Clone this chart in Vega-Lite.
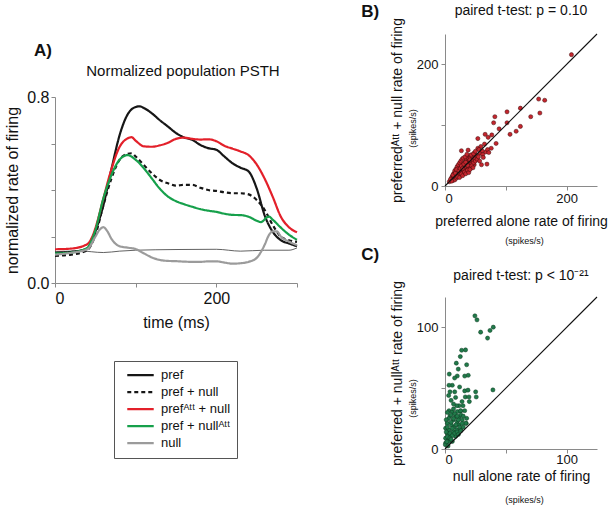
{
"$schema": "https://vega.github.io/schema/vega-lite/v6.json",
"background": "white",
"padding": {"left": 4, "top": 2, "right": 8, "bottom": 2},
"config": {
  "font": "Liberation Sans",
  "view": {"stroke": null},
  "axis": {"grid": false, "domainColor": "#8a8a8a", "tickColor": "#8a8a8a", "labelColor": "#111", "titleColor": "#111", "titleFontWeight": "normal", "tickSize": 4, "labelFont": "Liberation Sans", "titleFont": "Liberation Sans"},
  "title": {"font": "Liberation Sans", "fontWeight": "normal", "color": "#111"}
},
"datasets": {
  "psth": [
    {"t":0,"v":0.13,"s":"pref"},{"t":20,"v":0.134,"s":"pref"},{"t":40,"v":0.148,"s":"pref"},{"t":45,"v":0.17,"s":"pref"},{"t":50,"v":0.22,"s":"pref"},{"t":60,"v":0.335,"s":"pref"},{"t":70,"v":0.49,"s":"pref"},{"t":80,"v":0.635,"s":"pref"},{"t":90,"v":0.725,"s":"pref"},{"t":100,"v":0.757,"s":"pref"},{"t":105,"v":0.76,"s":"pref"},{"t":110,"v":0.753,"s":"pref"},{"t":120,"v":0.73,"s":"pref"},{"t":130,"v":0.7,"s":"pref"},{"t":140,"v":0.673,"s":"pref"},{"t":150,"v":0.645,"s":"pref"},{"t":160,"v":0.626,"s":"pref"},{"t":170,"v":0.616,"s":"pref"},{"t":180,"v":0.594,"s":"pref"},{"t":190,"v":0.58,"s":"pref"},{"t":200,"v":0.573,"s":"pref"},{"t":210,"v":0.544,"s":"pref"},{"t":220,"v":0.515,"s":"pref"},{"t":230,"v":0.496,"s":"pref"},{"t":240,"v":0.48,"s":"pref"},{"t":250,"v":0.407,"s":"pref"},{"t":260,"v":0.29,"s":"pref"},{"t":270,"v":0.22,"s":"pref"},{"t":280,"v":0.184,"s":"pref"},{"t":290,"v":0.17,"s":"pref"},{"t":300,"v":0.158,"s":"pref"},
    {"t":0,"v":0.117,"s":"pref + null"},{"t":20,"v":0.122,"s":"pref + null"},{"t":40,"v":0.141,"s":"pref + null"},{"t":45,"v":0.165,"s":"pref + null"},{"t":50,"v":0.206,"s":"pref + null"},{"t":60,"v":0.335,"s":"pref + null"},{"t":70,"v":0.45,"s":"pref + null"},{"t":80,"v":0.53,"s":"pref + null"},{"t":90,"v":0.556,"s":"pref + null"},{"t":95,"v":0.558,"s":"pref + null"},{"t":100,"v":0.544,"s":"pref + null"},{"t":110,"v":0.508,"s":"pref + null"},{"t":120,"v":0.472,"s":"pref + null"},{"t":130,"v":0.443,"s":"pref + null"},{"t":140,"v":0.429,"s":"pref + null"},{"t":150,"v":0.419,"s":"pref + null"},{"t":160,"v":0.422,"s":"pref + null"},{"t":170,"v":0.422,"s":"pref + null"},{"t":180,"v":0.41,"s":"pref + null"},{"t":190,"v":0.4,"s":"pref + null"},{"t":200,"v":0.396,"s":"pref + null"},{"t":210,"v":0.39,"s":"pref + null"},{"t":220,"v":0.386,"s":"pref + null"},{"t":230,"v":0.386,"s":"pref + null"},{"t":240,"v":0.381,"s":"pref + null"},{"t":250,"v":0.357,"s":"pref + null"},{"t":260,"v":0.314,"s":"pref + null"},{"t":270,"v":0.249,"s":"pref + null"},{"t":280,"v":0.199,"s":"pref + null"},{"t":290,"v":0.184,"s":"pref + null"},{"t":300,"v":0.177,"s":"pref + null"},
    {"t":0,"v":0.145,"s":"prefᴬᵗᵗ + null"},{"t":20,"v":0.148,"s":"prefᴬᵗᵗ + null"},{"t":40,"v":0.167,"s":"prefᴬᵗᵗ + null"},{"t":45,"v":0.19,"s":"prefᴬᵗᵗ + null"},{"t":50,"v":0.235,"s":"prefᴬᵗᵗ + null"},{"t":60,"v":0.364,"s":"prefᴬᵗᵗ + null"},{"t":70,"v":0.49,"s":"prefᴬᵗᵗ + null"},{"t":80,"v":0.585,"s":"prefᴬᵗᵗ + null"},{"t":90,"v":0.622,"s":"prefᴬᵗᵗ + null"},{"t":95,"v":0.627,"s":"prefᴬᵗᵗ + null"},{"t":100,"v":0.612,"s":"prefᴬᵗᵗ + null"},{"t":110,"v":0.588,"s":"prefᴬᵗᵗ + null"},{"t":120,"v":0.586,"s":"prefᴬᵗᵗ + null"},{"t":130,"v":0.592,"s":"prefᴬᵗᵗ + null"},{"t":140,"v":0.603,"s":"prefᴬᵗᵗ + null"},{"t":150,"v":0.62,"s":"prefᴬᵗᵗ + null"},{"t":160,"v":0.625,"s":"prefᴬᵗᵗ + null"},{"t":170,"v":0.62,"s":"prefᴬᵗᵗ + null"},{"t":180,"v":0.617,"s":"prefᴬᵗᵗ + null"},{"t":190,"v":0.618,"s":"prefᴬᵗᵗ + null"},{"t":200,"v":0.61,"s":"prefᴬᵗᵗ + null"},{"t":210,"v":0.59,"s":"prefᴬᵗᵗ + null"},{"t":220,"v":0.578,"s":"prefᴬᵗᵗ + null"},{"t":230,"v":0.566,"s":"prefᴬᵗᵗ + null"},{"t":240,"v":0.55,"s":"prefᴬᵗᵗ + null"},{"t":250,"v":0.51,"s":"prefᴬᵗᵗ + null"},{"t":260,"v":0.448,"s":"prefᴬᵗᵗ + null"},{"t":270,"v":0.37,"s":"prefᴬᵗᵗ + null"},{"t":280,"v":0.285,"s":"prefᴬᵗᵗ + null"},{"t":290,"v":0.24,"s":"prefᴬᵗᵗ + null"},{"t":300,"v":0.218,"s":"prefᴬᵗᵗ + null"},
    {"t":0,"v":0.127,"s":"pref + nullᴬᵗᵗ"},{"t":20,"v":0.131,"s":"pref + nullᴬᵗᵗ"},{"t":40,"v":0.151,"s":"pref + nullᴬᵗᵗ"},{"t":45,"v":0.18,"s":"pref + nullᴬᵗᵗ"},{"t":50,"v":0.227,"s":"pref + nullᴬᵗᵗ"},{"t":60,"v":0.364,"s":"pref + nullᴬᵗᵗ"},{"t":70,"v":0.465,"s":"pref + nullᴬᵗᵗ"},{"t":80,"v":0.53,"s":"pref + nullᴬᵗᵗ"},{"t":90,"v":0.55,"s":"pref + nullᴬᵗᵗ"},{"t":100,"v":0.53,"s":"pref + nullᴬᵗᵗ"},{"t":110,"v":0.494,"s":"pref + nullᴬᵗᵗ"},{"t":120,"v":0.45,"s":"pref + nullᴬᵗᵗ"},{"t":130,"v":0.405,"s":"pref + nullᴬᵗᵗ"},{"t":140,"v":0.372,"s":"pref + nullᴬᵗᵗ"},{"t":150,"v":0.352,"s":"pref + nullᴬᵗᵗ"},{"t":160,"v":0.339,"s":"pref + nullᴬᵗᵗ"},{"t":170,"v":0.328,"s":"pref + nullᴬᵗᵗ"},{"t":180,"v":0.318,"s":"pref + nullᴬᵗᵗ"},{"t":190,"v":0.311,"s":"pref + nullᴬᵗᵗ"},{"t":200,"v":0.306,"s":"pref + nullᴬᵗᵗ"},{"t":210,"v":0.298,"s":"pref + nullᴬᵗᵗ"},{"t":220,"v":0.293,"s":"pref + nullᴬᵗᵗ"},{"t":230,"v":0.292,"s":"pref + nullᴬᵗᵗ"},{"t":240,"v":0.285,"s":"pref + nullᴬᵗᵗ"},{"t":250,"v":0.268,"s":"pref + nullᴬᵗᵗ"},{"t":255,"v":0.262,"s":"pref + nullᴬᵗᵗ"},{"t":265,"v":0.286,"s":"pref + nullᴬᵗᵗ"},{"t":270,"v":0.272,"s":"pref + nullᴬᵗᵗ"},{"t":280,"v":0.238,"s":"pref + nullᴬᵗᵗ"},{"t":290,"v":0.208,"s":"pref + nullᴬᵗᵗ"},{"t":300,"v":0.186,"s":"pref + nullᴬᵗᵗ"},
    {"t":0,"v":0.122,"s":"null"},{"t":20,"v":0.13,"s":"null"},{"t":40,"v":0.145,"s":"null"},{"t":50,"v":0.199,"s":"null"},{"t":55,"v":0.228,"s":"null"},{"t":60,"v":0.24,"s":"null"},{"t":65,"v":0.222,"s":"null"},{"t":70,"v":0.19,"s":"null"},{"t":80,"v":0.158,"s":"null"},{"t":90,"v":0.152,"s":"null"},{"t":100,"v":0.146,"s":"null"},{"t":110,"v":0.128,"s":"null"},{"t":120,"v":0.11,"s":"null"},{"t":130,"v":0.099,"s":"null"},{"t":140,"v":0.095,"s":"null"},{"t":150,"v":0.094,"s":"null"},{"t":160,"v":0.092,"s":"null"},{"t":170,"v":0.091,"s":"null"},{"t":180,"v":0.091,"s":"null"},{"t":190,"v":0.093,"s":"null"},{"t":200,"v":0.093,"s":"null"},{"t":210,"v":0.088,"s":"null"},{"t":220,"v":0.083,"s":"null"},{"t":230,"v":0.085,"s":"null"},{"t":240,"v":0.091,"s":"null"},{"t":250,"v":0.108,"s":"null"},{"t":260,"v":0.165,"s":"null"},{"t":265,"v":0.205,"s":"null"},{"t":270,"v":0.222,"s":"null"},{"t":275,"v":0.222,"s":"null"},{"t":280,"v":0.2,"s":"null"},{"t":290,"v":0.178,"s":"null"},{"t":300,"v":0.163,"s":"null"}
  ],
  "base": [
    {"t":0,"v":0.134},{"t":30,"v":0.138},{"t":60,"v":0.131},{"t":80,"v":0.137},{"t":100,"v":0.141},{"t":150,"v":0.144},{"t":200,"v":0.145},{"t":230,"v":0.137},{"t":260,"v":0.141},{"t":290,"v":0.141},{"t":300,"v":0.151}
  ],
  "diagB": [{"x":0,"y":0},{"x":250,"y":250}],
  "diagC": [{"x":0,"y":0},{"x":125,"y":125}],
  "ptsB": [
    {"x":208,"y":216},{"x":154,"y":143},{"x":164,"y":141},{"x":141,"y":114},{"x":156,"y":120},{"x":124,"y":128},{"x":102,"y":122},{"x":124,"y":98},{"x":117,"y":90},{"x":107,"y":85},{"x":102,"y":104},{"x":82,"y":114},{"x":80,"y":104},{"x":89,"y":94},{"x":66,"y":85},{"x":71,"y":80},{"x":77,"y":84},{"x":54,"y":78},{"x":84,"y":70},{"x":76,"y":62},{"x":69,"y":36},{"x":60,"y":35},{"x":27,"y":58},{"x":38,"y":59},{"x":54,"y":62},{"x":59,"y":65},{"x":65,"y":69},{"x":48,"y":54},{"x":58,"y":54},{"x":43,"y":51},{"x":37,"y":48},{"x":51,"y":45},{"x":45,"y":43},{"x":35,"y":40},{"x":40,"y":37},{"x":48,"y":35},{"x":32,"y":32},{"x":26,"y":29},{"x":21,"y":26},{"x":29,"y":24},{"x":18,"y":21},{"x":24,"y":18},{"x":15,"y":15},{"x":13,"y":13},{"x":10,"y":10},{"x":7,"y":7},
    {"x":12,"y":16},{"x":14,"y":20},{"x":16,"y":22},{"x":17,"y":18},{"x":19,"y":24},{"x":20,"y":20},{"x":21,"y":28},{"x":22,"y":23},{"x":23,"y":30},{"x":24,"y":26},{"x":25,"y":22},{"x":26,"y":34},{"x":27,"y":27},{"x":28,"y":31},{"x":29,"y":36},{"x":30,"y":28},{"x":31,"y":33},{"x":32,"y":38},{"x":33,"y":30},{"x":34,"y":35},{"x":35,"y":44},{"x":36,"y":33},{"x":37,"y":40},{"x":38,"y":36},{"x":39,"y":45},{"x":40,"y":42},{"x":41,"y":38},{"x":42,"y":47},{"x":43,"y":40},{"x":44,"y":36},{"x":45,"y":49},{"x":46,"y":42},{"x":47,"y":38},{"x":49,"y":46},{"x":50,"y":41},{"x":52,"y":50},{"x":53,"y":44},{"x":55,"y":48},{"x":57,"y":41},{"x":62,"y":52},{"x":63,"y":47},{"x":67,"y":56},{"x":70,"y":60},{"x":72,"y":55},
    {"x":15,"y":12},{"x":17,"y":14},{"x":18,"y":16},{"x":20,"y":17},{"x":22,"y":19},{"x":23,"y":21},{"x":25,"y":18},{"x":26,"y":24},{"x":28,"y":22},{"x":30,"y":25},{"x":31,"y":21},{"x":33,"y":27},{"x":35,"y":24},{"x":36,"y":30},{"x":38,"y":28},{"x":40,"y":32},{"x":42,"y":29},{"x":44,"y":33},{"x":46,"y":30},
    {"x":13,"y":9},{"x":16,"y":10},{"x":19,"y":13},{"x":21,"y":15},{"x":24,"y":14},{"x":27,"y":20},{"x":29,"y":17},{"x":32,"y":23},{"x":34,"y":20},{"x":37,"y":26},{"x":39,"y":22},{"x":41,"y":27},
    {"x":11,"y":14},{"x":14,"y":17},{"x":16,"y":25},{"x":18,"y":28},{"x":20,"y":32},{"x":22,"y":35},{"x":24,"y":38},{"x":26,"y":41},{"x":28,"y":44},{"x":30,"y":46},{"x":33,"y":48},{"x":36,"y":52},
    {"x":9,"y":11},{"x":11,"y":8},{"x":13,"y":18},{"x":17,"y":21},{"x":19,"y":27},{"x":23,"y":25},{"x":25,"y":29},{"x":27,"y":33},{"x":29,"y":29},{"x":31,"y":36},{"x":34,"y":39},{"x":37,"y":34},{"x":41,"y":43},{"x":43,"y":51},{"x":47,"y":53},{"x":50,"y":57},{"x":56,"y":60},{"x":61,"y":58}
  ],
  "ptsC": [
    {"x":24.6,"y":109.5},{"x":26.3,"y":106.2},{"x":29.3,"y":96.1},{"x":35,"y":91.2},{"x":37,"y":97.5},{"x":39.7,"y":100.2},{"x":39.4,"y":48.6},{"x":13.7,"y":81.2},{"x":16.9,"y":81.5},{"x":12.6,"y":76},{"x":9.3,"y":70.6},{"x":17.8,"y":69.3},{"x":10.9,"y":65.7},{"x":16.2,"y":60},{"x":10.1,"y":60},{"x":7.9,"y":58.4},{"x":3.5,"y":61.6},{"x":19.1,"y":60.6},{"x":6,"y":52.4},{"x":3.3,"y":52.4},{"x":4.1,"y":47},{"x":8,"y":47},{"x":12,"y":51},{"x":16.2,"y":47.8},{"x":18.9,"y":48.4},{"x":25.2,"y":47},{"x":25.7,"y":42.8},{"x":16.7,"y":42.8},{"x":8.7,"y":42.4},{"x":19.7,"y":42.8},{"x":14.8,"y":35.6},{"x":11.5,"y":35.6},{"x":9.6,"y":35.6},{"x":16.2,"y":31.5},{"x":17.5,"y":21.1},{"x":12.9,"y":31.2},{"x":7,"y":37},{"x":5,"y":40},{"x":3,"y":44},{"x":20,"y":39},{"x":14,"y":39},
    {"x":3.3,"y":31.5},{"x":6,"y":30.7},{"x":10.1,"y":30.7},{"x":12.8,"y":31.5},{"x":8.7,"y":26.6},{"x":11.5,"y":26.1},{"x":4.1,"y":27.1},{"x":6.8,"y":23.9},{"x":10.1,"y":22.5},{"x":14.2,"y":23.9},{"x":1.9,"y":21.2},{"x":5.2,"y":19.8},{"x":7.9,"y":18.4},{"x":11.5,"y":19.8},{"x":0.5,"y":17.1},{"x":3.3,"y":15.7},{"x":6.8,"y":14.4},{"x":9.6,"y":15.7},{"x":12.8,"y":16.3},{"x":1.9,"y":13},{"x":4.6,"y":11.7},{"x":8.7,"y":10.3},{"x":0.5,"y":8.9},{"x":3.3,"y":7.6},{"x":6,"y":6.2},{"x":0.5,"y":4.9},{"x":0.3,"y":3.5},{"x":17,"y":21.2},{"x":17.8,"y":25.2},
    {"x":2,"y":10},{"x":4,"y":13},{"x":5,"y":22},{"x":7,"y":25},{"x":9,"y":20},{"x":11,"y":24},{"x":13,"y":28},{"x":15,"y":27},{"x":2,"y":18},{"x":1,"y":14},{"x":3,"y":6},{"x":6,"y":11},{"x":8,"y":13},{"x":10,"y":14},{"x":12,"y":18},{"x":14,"y":21},{"x":3,"y":25},{"x":5,"y":28},{"x":7,"y":33},{"x":2,"y":30},{"x":1,"y":24},{"x":4,"y":9},{"x":6,"y":17},{"x":8,"y":29},{"x":10,"y":27},{"x":1.5,"y":6},{"x":2.5,"y":2.5},{"x":5,"y":8},{"x":11,"y":12},{"x":13,"y":15},{"x":15,"y":18}
  ]
},
"spacing": 59,
"hconcat": [
  {
    "spacing": 5,
    "vconcat": [
      {
        "width": 242, "height": 1,
        "data": {"values": []},
        "mark": "point",
        "title": {"text": "A)", "orient": "bottom", "anchor": "start", "frame": "group", "fontSize": 17, "fontWeight": "bold", "dx": -21, "offset": 8}
      },
      {
        "width": 242, "height": 186,
        "title": {"text": "Normalized population PSTH", "fontSize": 15, "anchor": "middle", "frame": "group", "dx": 7, "offset": 10},
        "layer": [
          {
            "data": {"name": "base"},
            "mark": {"type": "line", "color": "#3a3a3a", "strokeWidth": 0.8, "interpolate": "monotone"},
            "encoding": {
              "x": {"field": "t", "type": "quantitative", "scale": {"domain": [0, 300]}, "axis": {"title": "time (ms)", "values": [0, 100, 200, 300], "labelExpr": "datum.value == 0 || datum.value == 200 ? datum.label : ''", "labelFontSize": 16, "titleFontSize": 16, "labelPadding": 3, "titlePadding": 8}},
              "y": {"field": "v", "type": "quantitative", "scale": {"domain": [0, 0.8]}, "axis": {"title": "normalized rate of firing", "values": [0, 0.2, 0.4, 0.6, 0.8], "format": ".1f", "labelExpr": "datum.value == 0 || datum.value == 0.8 ? datum.label : ''", "labelFontSize": 16, "titleFontSize": 16, "labelPadding": 2, "titlePadding": 6}}
            }
          },
          {
            "data": {"name": "psth"},
            "mark": {"type": "line", "strokeWidth": 2.2, "interpolate": "monotone"},
            "encoding": {
              "x": {"field": "t", "type": "quantitative"},
              "y": {"field": "v", "type": "quantitative"},
              "color": {"field": "s", "type": "nominal",
                "scale": {"domain": ["pref", "pref + null", "prefᴬᵗᵗ + null", "pref + nullᴬᵗᵗ", "null"], "range": ["#161616", "#161616", "#e3202a", "#16a04b", "#9b9b9b"]},
                "legend": {"title": null, "orient": "none", "legendX": 59, "legendY": 327, "strokeColor": "#555", "fillColor": "white", "padding": 6, "symbolType": "stroke", "symbolSize": 700, "symbolStrokeWidth": 2.2, "symbolOffset": 6, "clipHeight": 16.4, "rowPadding": 0, "labelOffset": 6, "labelFontSize": 13, "labelColor": "#111", "labelFont": "Liberation Sans"}},
              "strokeDash": {"field": "s", "type": "nominal",
                "scale": {"domain": ["pref", "pref + null", "prefᴬᵗᵗ + null", "pref + nullᴬᵗᵗ", "null"], "range": [[1, 0], [4, 3], [1, 0], [1, 0], [1, 0]]},
                "legend": {"title": null, "orient": "none", "legendX": 59, "legendY": 327, "strokeColor": "#555", "fillColor": "white", "padding": 6, "symbolType": "stroke", "symbolSize": 700, "symbolStrokeWidth": 2.2, "symbolOffset": 6, "clipHeight": 16.4, "rowPadding": 0, "labelOffset": 6, "labelFontSize": 13, "labelColor": "#111", "labelFont": "Liberation Sans"}}
            }
          }
        ]
      }
    ]
  },
  {
    "spacing": 0,
    "vconcat": [
      {
        "title": {"text": "B)", "anchor": "start", "fontSize": 17, "fontWeight": "bold", "dx": -29, "dy": 17, "offset": 0},
        "vconcat": [
          {
            "width": 152, "height": 152,
            "title": {"text": "paired t-test: p = 0.10", "fontSize": 14, "anchor": "middle", "frame": "group", "offset": 0},
            "layer": [
              {
                "data": {"name": "ptsB"},
                "mark": {"type": "circle", "size": 17, "fill": "#c4262e", "stroke": "#3d0a0a", "strokeWidth": 0.5, "opacity": 1},
                "encoding": {
                  "x": {"field": "x", "type": "quantitative", "scale": {"domain": [0, 250]}, "axis": {"title": "preferred alone rate of firing", "values": [0, 100, 200], "labelExpr": "datum.value == 100 ? '' : datum.label", "labelFontSize": 13, "titleFontSize": 14, "labelPadding": 2, "titlePadding": 9}},
                  "y": {"field": "y", "type": "quantitative", "scale": {"domain": [0, 250]}, "axis": {"title": "preferredᴬᵗᵗ + null rate of firing", "values": [0, 100, 200], "labelExpr": "datum.value == 100 ? '' : datum.label", "labelFontSize": 13, "titleFontSize": 14, "labelPadding": 3, "titlePadding": 12}}
                }
              },
              {
                "data": {"name": "diagB"},
                "mark": {"type": "line", "color": "#111", "strokeWidth": 1.1},
                "encoding": {
                  "x": {"field": "x", "type": "quantitative", "scale": {"domain": [0, 250]}, "axis": {"orient": "bottom", "title": "(spikes/s)", "labels": false, "ticks": false, "domain": false, "titleFontSize": 9, "titleX": 79, "titleY": 50}},
                  "y": {"field": "y", "type": "quantitative", "scale": {"domain": [0, 250]}, "axis": {"orient": "left", "title": "(spikes/s)", "labels": false, "ticks": false, "domain": false, "titleFontSize": 9, "titleX": -28, "titleY": 94}}
                }
              }
            ],
            "resolve": {"axis": {"x": "independent", "y": "independent"}}
          }
        ]
      },
      {
        "title": {"text": "C)", "anchor": "start", "fontSize": 17, "fontWeight": "bold", "dx": -29, "dy": -3, "offset": 2},
        "vconcat": [
          {
            "width": 152, "height": 152,
            "title": {"text": "paired t-test: p < 10⁻²¹", "fontSize": 14, "anchor": "middle", "frame": "group", "offset": -2},
            "layer": [
              {
                "data": {"name": "ptsC"},
                "mark": {"type": "circle", "size": 17, "fill": "#217a4a", "stroke": "#0c3a20", "strokeWidth": 0.5, "opacity": 1},
                "encoding": {
                  "x": {"field": "x", "type": "quantitative", "scale": {"domain": [0, 125]}, "axis": {"title": "null alone rate of firing", "values": [0, 50, 100], "labelExpr": "datum.value == 50 ? '' : datum.label", "labelFontSize": 13, "titleFontSize": 14, "labelPadding": 0, "titlePadding": 3}},
                  "y": {"field": "y", "type": "quantitative", "scale": {"domain": [0, 125]}, "axis": {"title": "preferred + nullᴬᵗᵗ rate of firing", "values": [0, 50, 100], "labelExpr": "datum.value == 50 ? '' : datum.label", "labelFontSize": 13, "titleFontSize": 14, "labelPadding": 3, "titlePadding": 12}}
                }
              },
              {
                "data": {"name": "diagC"},
                "mark": {"type": "line", "color": "#111", "strokeWidth": 1.1},
                "encoding": {
                  "x": {"field": "x", "type": "quantitative", "scale": {"domain": [0, 125]}, "axis": {"orient": "bottom", "title": "(spikes/s)", "labels": false, "ticks": false, "domain": false, "titleFontSize": 9, "titleX": 79, "titleY": 46}},
                  "y": {"field": "y", "type": "quantitative", "scale": {"domain": [0, 125]}, "axis": {"orient": "left", "title": "(spikes/s)", "labels": false, "ticks": false, "domain": false, "titleFontSize": 9, "titleX": -28, "titleY": 101}}
                }
              }
            ],
            "resolve": {"axis": {"x": "independent", "y": "independent"}}
          }
        ]
      }
    ]
  }
]
}
